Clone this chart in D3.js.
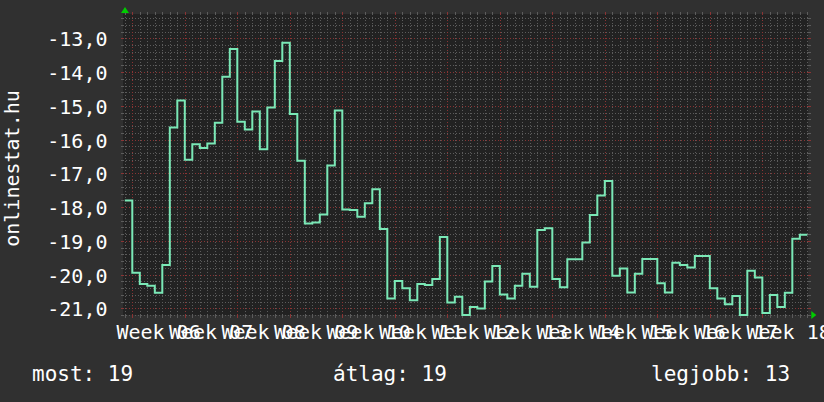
<!DOCTYPE html>
<html>
<head>
<meta charset="utf-8">
<script src="https://cdn.jsdelivr.net/npm/d3@7"></script>
<style>
  html, body { margin: 0; padding: 0; background: #303030; }
  svg { display: block; }
  text { font-family: "DejaVu Sans Mono", "Liberation Mono", monospace; fill: #ffffff; }
</style>
</head>
<body>
<div id="chart"></div>
<script>
// daily rank (negated), first value is the partial day before Week 06
const firstDay = -1;
const rank = [
  -17.81,
  -19.95, -20.28, -20.33, -20.54, -19.72, -15.64, -14.84,
  -16.60, -16.14, -16.25, -16.12, -15.50, -14.14, -13.32,
  -15.47, -15.70, -15.17, -16.29, -15.05, -13.67, -13.13,
  -15.24, -16.63, -18.49, -18.46, -18.22, -16.77, -15.14,
  -18.07, -18.09, -18.29, -17.89, -17.47, -18.65, -20.71,
  -20.19, -20.41, -20.76, -20.28, -20.31, -20.13, -18.89,
  -20.83, -20.66, -21.30, -20.96, -21.01, -20.21, -19.75,
  -20.59, -20.71, -20.33, -19.98, -20.36, -18.68, -18.63,
  -20.13, -20.38, -19.55, -19.55, -19.05, -18.24, -17.66,
  -17.23, -20.04, -19.82, -20.53, -19.98, -19.54, -19.54,
  -20.26, -20.53, -19.65, -19.72, -19.79, -19.45, -19.45,
  -20.41, -20.71, -20.88, -20.64, -21.30, -19.89, -20.09,
  -21.14, -20.61, -20.96, -20.54, -18.94, -18.82
];
const weekLabels = ["Week 06", "Week 07", "Week 08", "Week 09", "Week 10", "Week 11", "Week 12",
                    "Week 13", "Week 14", "Week 15", "Week 16", "Week 17", "Week 18"];
const yTicks = [-13, -14, -15, -16, -17, -18, -19, -20, -21];
const legendLabels = ["most: 19", "átlag: 19", "legjobb: 13"];
const axisTitle = "onlinestat.hu";

const W = 824, H = 402;
const plot = { left: 123, right: 808.3, top: 14, bottom: 315 };

const svg = d3.select("#chart").append("svg")
  .attr("width", W)
  .attr("height", H);

svg.append("rect").attr("width", W).attr("height", H).attr("fill", "#303030");

const x = d3.scaleLinear().domain([-1.24, 90.13]).range([plot.left, plot.right]);
const y = d3.scaleLinear().domain([-21.2, -12.28]).range([plot.bottom, plot.top]).clamp(true);

svg.append("rect")
  .attr("x", plot.left).attr("y", plot.top)
  .attr("width", plot.right - plot.left).attr("height", plot.bottom - plot.top)
  .attr("fill", "#222222");

// grid: days / weeks, 0.2 / 1.0
const dayTicks = d3.range(-1, 91);
const minorY = d3.range(-21.2, -12.3, 0.2).map(v => Math.round(v * 10) / 10);
const grid = svg.append("g").attr("shape-rendering", "crispEdges");

const gridColor = (major) => major ? "#8a3434" : "#5c5c5c";

minorY.forEach(v => {
  const major = Math.abs(v - Math.round(v)) < 1e-6;
  const yy = Math.round(y(v)) + 0.5;
  grid.append("line")
    .attr("x1", plot.left).attr("x2", plot.right)
    .attr("y1", yy).attr("y2", yy)
    .attr("stroke", gridColor(major))
    .attr("stroke-dasharray", "1,2");
  grid.append("line")
    .attr("x1", plot.right).attr("x2", plot.right + 3)
    .attr("y1", yy).attr("y2", yy)
    .attr("stroke", gridColor(major));
  grid.append("line")
    .attr("x1", plot.left - 2).attr("x2", plot.left + 1)
    .attr("y1", yy).attr("y2", yy)
    .attr("stroke", gridColor(major));
});

dayTicks.forEach(d => {
  const major = d % 7 === 0;
  const xx = Math.round(x(d)) + 0.5;
  if (xx < plot.left || xx > plot.right) return;
  grid.append("line")
    .attr("x1", xx).attr("x2", xx)
    .attr("y1", plot.top).attr("y2", plot.bottom)
    .attr("stroke", gridColor(major))
    .attr("stroke-dasharray", "1,2");
  grid.append("line")
    .attr("x1", xx).attr("x2", xx)
    .attr("y1", plot.top - 2).attr("y2", plot.top + 1)
    .attr("stroke", gridColor(major));
  grid.append("line")
    .attr("x1", xx).attr("x2", xx)
    .attr("y1", plot.bottom - 1).attr("y2", plot.bottom + 3)
    .attr("stroke", gridColor(major));
});

// axis arrows
svg.append("path")
  .attr("d", `M${plot.left - 2},${plot.top - 1} L${plot.left + 2},${plot.top - 7} L${plot.left + 6},${plot.top - 1} Z`)
  .attr("fill", "#00cc00");
svg.append("path")
  .attr("d", `M${plot.right + 3},${plot.bottom - 4} L${plot.right + 8},${plot.bottom} L${plot.right + 3},${plot.bottom + 4} Z`)
  .attr("fill", "#00cc00");

// data line (step)
const pts = rank.map((v, i) => [firstDay + i, v]);
pts.push([firstDay + rank.length, rank[rank.length - 1]]);

const line = d3.line()
  .x(d => x(d[0]))
  .y(d => y(d[1]))
  .curve(d3.curveStepAfter);

svg.append("path")
  .datum(pts)
  .attr("fill", "none")
  .attr("stroke", "#7ae8b6")
  .attr("stroke-width", 2)
  .attr("stroke-linejoin", "miter")
  .attr("d", line);

// y tick labels
svg.append("g")
  .selectAll("text")
  .data(yTicks)
  .enter()
  .append("text")
  .attr("x", 107.5)
  .attr("y", d => y(d) + 8)
  .attr("text-anchor", "end")
  .style("font-size", "20px")
  .text(d => d3.format(".1f")(d).replace("−", "-").replace(".", ","));

// x week labels, centered on the middle of each week
svg.append("g")
  .selectAll("text")
  .data(weekLabels)
  .enter()
  .append("text")
  .attr("x", (d, i) => x(i * 7 + 3.5))
  .attr("y", 339)
  .attr("text-anchor", "middle")
  .style("font-size", "20px")
  .text(d => d);

// vertical title
svg.append("text")
  .attr("transform", `translate(19, ${(plot.top + plot.bottom) / 2 + 4}) rotate(-90)`)
  .attr("text-anchor", "middle")
  .style("font-size", "20px")
  .text(axisTitle);

// legend
const legendX = [32, 333, 651];
svg.append("g")
  .selectAll("text")
  .data(legendLabels)
  .enter()
  .append("text")
  .attr("x", (d, i) => legendX[i])
  .attr("y", 381)
  .style("font-size", "21px")
  .text(d => d);
</script>
</body>
</html>
